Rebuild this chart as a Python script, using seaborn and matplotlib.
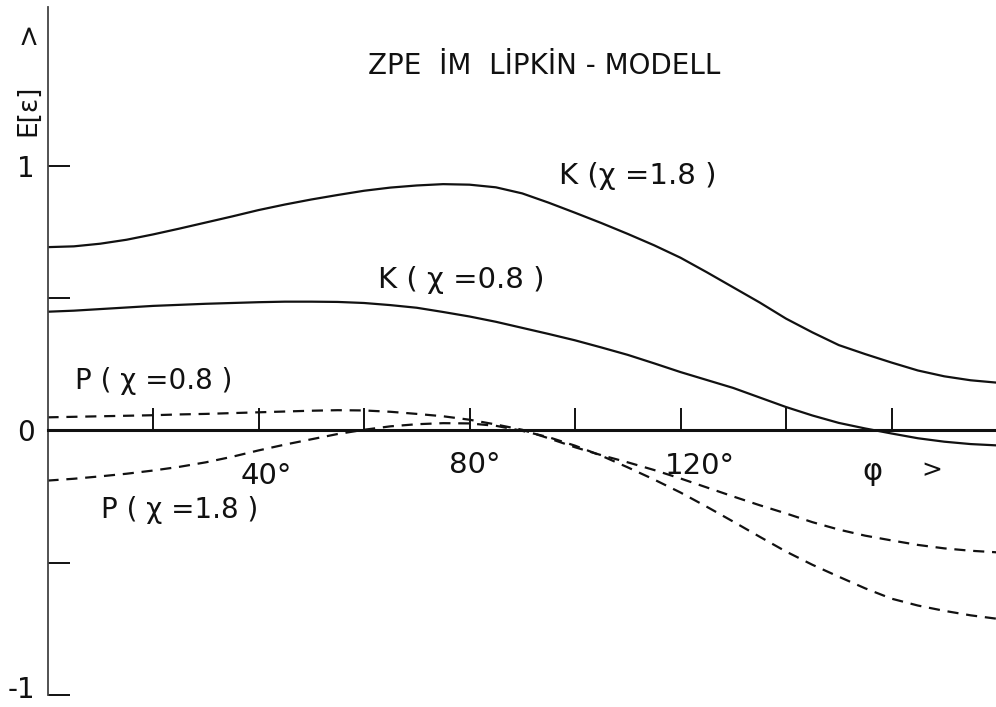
import matplotlib
matplotlib.use("Agg")
import matplotlib.pyplot as plt
import matplotlib.transforms as mtransforms
import numpy as np
import pandas as pd
import seaborn as sns

# Zero-point energy in the Lipkin model, kinetic (K) and potential (P) parts
angle_deg = [0, 5, 10, 15, 20, 25, 30, 35, 40, 45, 50, 55, 60, 65, 70, 75, 80, 85, 90,
             95, 100, 105, 110, 115, 120, 125, 130, 135, 140, 145, 150, 155, 160,
             165, 170, 175, 180]

k_chi18 = [0.692, 0.695, 0.705, 0.720, 0.740, 0.762, 0.785, 0.808, 0.832, 0.853,
           0.872, 0.889, 0.905, 0.917, 0.925, 0.930, 0.928, 0.918, 0.895,
           0.860, 0.822, 0.783, 0.742, 0.699, 0.652, 0.597, 0.540, 0.483, 0.422,
           0.370, 0.322, 0.288, 0.256, 0.226, 0.204, 0.189, 0.180]
k_chi08 = [0.448, 0.452, 0.458, 0.464, 0.470, 0.474, 0.478, 0.481, 0.484, 0.486,
           0.486, 0.485, 0.481, 0.473, 0.463, 0.447, 0.430, 0.410, 0.387,
           0.364, 0.340, 0.313, 0.285, 0.253, 0.220, 0.190, 0.160, 0.124, 0.088,
           0.056, 0.028, 0.007, -0.012, -0.030, -0.043, -0.052, -0.057]
p_chi08 = [0.049, 0.051, 0.053, 0.055, 0.057, 0.060, 0.062, 0.065, 0.068, 0.071,
           0.074, 0.076, 0.075, 0.070, 0.062, 0.053, 0.040, 0.022, 0.002,
           -0.030, -0.064, -0.094, -0.121, -0.150, -0.182, -0.216, -0.250, -0.283, -0.314,
           -0.347, -0.375, -0.398, -0.416, -0.433, -0.446, -0.455, -0.461]
p_chi18 = [-0.190, -0.183, -0.174, -0.164, -0.152, -0.138, -0.121, -0.100, -0.076, -0.054,
           -0.034, -0.014, 0.002, 0.015, 0.023, 0.027, 0.026, 0.017, -0.002,
           -0.026, -0.058, -0.096, -0.140, -0.186, -0.235, -0.289, -0.345, -0.402, -0.458,
           -0.508, -0.553, -0.597, -0.636, -0.662, -0.682, -0.699, -0.712]

curve_names = ["K18", "K08", "P08", "P18"]
curve_labels = ["K (χ =1.8 )", "K ( χ =0.8 )", "P ( χ =0.8 )", "P ( χ =1.8 )"]

y_ticks = [-1, -0.5, 0, 0.5, 1]
y_ticklabels = ["-1", "", "0", "", "1"]
x_ticks = [20, 40, 60, 80, 100, 120, 140, 160, 180]
x_labels = ["40°", "80°", "120°"]

title_text = "ZPE  İM  LİPKİN - MODELL"

df = pd.DataFrame({
    "angle": np.tile(angle_deg, 4),
    "E": np.concatenate([k_chi18, k_chi08, p_chi08, p_chi18]),
    "curve": np.repeat(curve_names, len(angle_deg)),
})

sns.set_theme(style="white")
plt.rcParams["font.family"] = ["DejaVu Sans"]

fig = plt.figure(figsize=(9.96, 7.07), dpi=100)
ax = fig.add_axes([47.5 / 996, 12.0 / 707, 949.5 / 996, 688.2 / 707])

ink = "#111111"
sns.lineplot(
    data=df, x="angle", y="E", hue="curve", style="curve",
    palette={c: ink for c in curve_names},
    dashes={"K18": "", "K08": "", "P08": (5, 3.5), "P18": (5, 3.5)},
    linewidth=1.6, legend=False, errorbar=None, sort=False, ax=ax,
)

ax.set_xlim(0, 180)
ax.set_ylim(-1, 1.6)
ax.set_xlabel("")
ax.set_ylabel("")

for side in ("top", "right"):
    ax.spines[side].set_visible(False)
ax.spines["bottom"].set_position(("data", 0))
ax.spines["bottom"].set_linewidth(2.2)
ax.spines["bottom"].set_color(ink)
ax.spines["left"].set_linewidth(1.3)
ax.spines["left"].set_color("#444444")

ax.set_yticks(y_ticks)
ax.set_yticklabels(y_ticklabels)
ax.set_xticks(x_ticks)
ax.set_xticklabels([])
ax.tick_params(axis="both", direction="in", length=16, width=1.4, color=ink)
ax.tick_params(axis="y", labelsize=20, pad=9, labelcolor=ink, left=True)
ax.tick_params(axis="x", bottom=True)

# lift the lowest tick label so it stays inside the canvas
lift = mtransforms.ScaledTranslation(0, 6 / 72, fig.dpi_scale_trans)
low_label = ax.get_yticklabels()[0]
low_label.set_transform(low_label.get_transform() + lift)

txt = dict(color=ink, ha="center", va="center", clip_on=False)

# curve labels
ax.text(111.9, 0.960, curve_labels[0], fontsize=21, **txt)
ax.text(78.4, 0.567, curve_labels[1], fontsize=21, **txt)
ax.text(20.2, 0.185, curve_labels[2], fontsize=20, **txt)
ax.text(25.1, -0.302, curve_labels[3], fontsize=20, **txt)

# degree labels on the angle axis
for lbl, xp, yp in zip(x_labels, [41.4, 81.0, 123.7], [-0.174, -0.132, -0.136]):
    ax.text(xp, yp, lbl, fontsize=21, **txt)

# axis names with arrow heads
ax.text(156.3, -0.155, "φ", fontsize=22, **txt)
ax.text(167.7, -0.151, ">", fontsize=18, **txt)
ax.text(-3.7, 1.21, "E[ε]", fontsize=19, rotation=90, **txt)
ax.text(-3.7, 1.505, ">", fontsize=20, rotation=90, **txt)

# title
ax.text(94.2, 1.376, title_text, fontsize=20, **txt)

fig.savefig("out.png", dpi=100, facecolor="white")
